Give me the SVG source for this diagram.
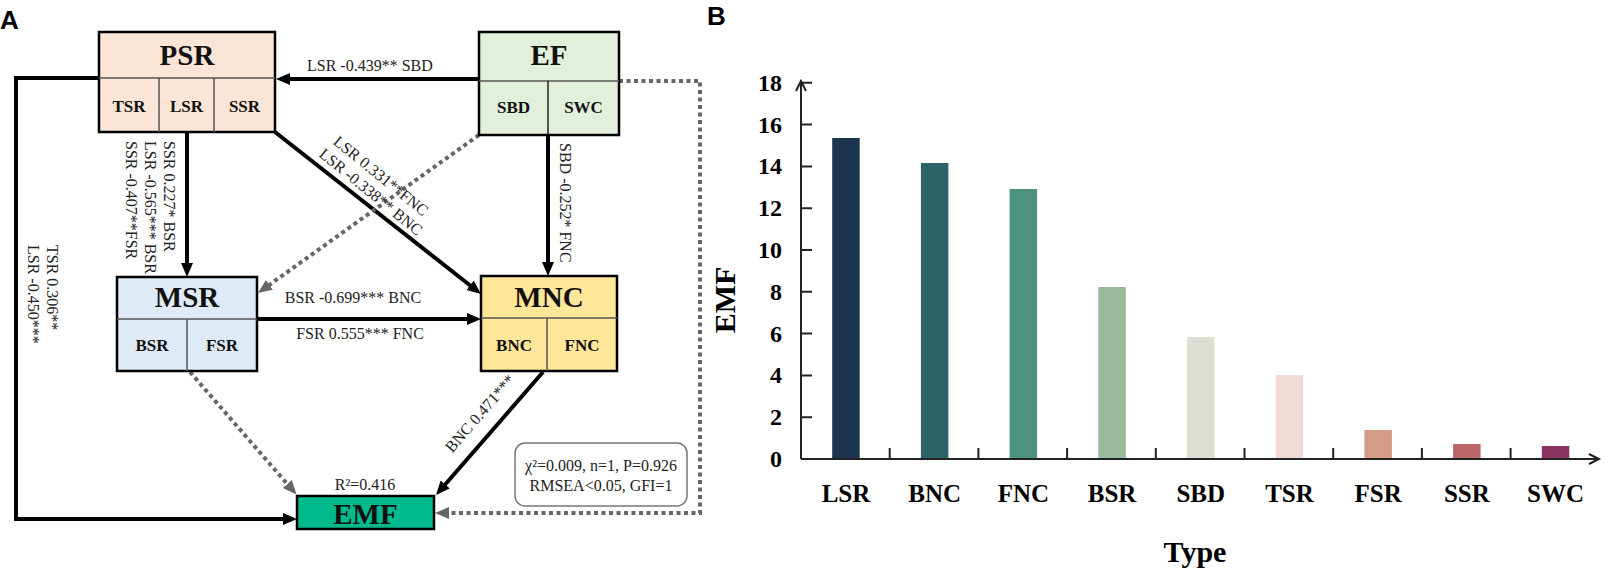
<svg xmlns="http://www.w3.org/2000/svg" width="1605" height="575" viewBox="0 0 1605 575">
<defs>
<style>
.box{stroke:#000;stroke-width:2.5}
.div{stroke:#555;stroke-width:1.5;fill:none}
.t1{font-family:"Liberation Serif",serif;font-weight:bold;font-size:29px;text-anchor:middle;fill:#111}
.t2{font-family:"Liberation Serif",serif;font-weight:bold;font-size:17px;text-anchor:middle;fill:#111}
.el{font-family:"Liberation Serif",serif;font-size:16px;fill:#222}
.elm{font-family:"Liberation Serif",serif;font-size:16px;fill:#222;text-anchor:middle}
.solid{stroke:#000;stroke-width:4;fill:none}
.dash{stroke:#666;stroke-width:4;fill:none;stroke-dasharray:4 3.5}
.pl{font-family:"Liberation Sans",Arial,sans-serif;font-weight:bold;font-size:26px;fill:#000}
.ax{stroke:#222;stroke-width:2;fill:none}
.yl{font-family:"Liberation Serif",serif;font-weight:bold;font-size:24px;text-anchor:end;fill:#000}
.xl{font-family:"Liberation Serif",serif;font-weight:bold;font-size:25px;text-anchor:middle;fill:#000}
.at{font-family:"Liberation Serif",serif;font-weight:bold;font-size:30px;text-anchor:middle;fill:#000}
</style>
<marker id="ah" markerUnits="userSpaceOnUse" markerWidth="15" markerHeight="13" refX="3" refY="6" orient="auto"><path d="M0,0 L14,6 L0,12 z" fill="#000"/></marker>
<marker id="ahg" markerUnits="userSpaceOnUse" markerWidth="15" markerHeight="13" refX="3" refY="6" orient="auto"><path d="M0,0 L14,6 L0,12 z" fill="#666"/></marker>
</defs>
<rect width="1605" height="575" fill="#fff"/>
<text class="pl" x="0" y="29">A</text>
<text class="pl" x="707" y="25">B</text>

<g id="connectors">
<path class="solid" d="M479,79 L287,79" marker-end="url(#ah)"/>
<path class="solid" d="M187,132 L187,266" marker-end="url(#ah)"/>
<path class="solid" d="M275,132 L472.4,287.2" marker-end="url(#ah)"/>
<path class="solid" d="M548,135 L548,265" marker-end="url(#ah)"/>
<path class="dash" d="M479,135 L266.9,286.6" marker-end="url(#ahg)"/>
<path class="solid" d="M257,319 L470,319" marker-end="url(#ah)"/>
<path class="solid" d="M99,78 L16,78 L16,519 L286,519" marker-end="url(#ah)"/>
<path class="dash" d="M190,372 L289.3,486.3" marker-end="url(#ahg)"/>
<path class="solid" d="M543,372 L443.2,486.7" marker-end="url(#ah)"/>
<path class="dash" d="M619,81 L700,81 L700,513 L446,513" marker-end="url(#ahg)"/>
<text class="el" x="307" y="71">LSR -0.439** SBD</text>
<text class="el" transform="translate(164,141) rotate(90)">SSR 0.227* BSR</text>
<text class="el" transform="translate(145,141) rotate(90)">LSR -0.565*** BSR</text>
<text class="el" transform="translate(126,141) rotate(90)">SSR -0.407**FSR</text>
<text class="el" transform="translate(47,245) rotate(90)">TSR 0.306**</text>
<text class="el" transform="translate(28,245) rotate(90)">LSR -0.450***</text>
<text class="el" transform="translate(560,143) rotate(90)">SBD -0.252* FNC</text>
<text class="elm" transform="translate(377.5,180) rotate(39)">LSR 0.331**FNC</text>
<text class="elm" transform="translate(367.5,196) rotate(39)">LSR -0.338** BNC</text>
<text class="elm" x="353" y="303">BSR -0.699*** BNC</text>
<text class="elm" x="360" y="339">FSR 0.555*** FNC</text>
<text class="elm" transform="translate(484,417) rotate(-49)">BNC 0.471***</text>
<text class="elm" x="365" y="490">R²=0.416</text>
</g>

<g id="PSR">
<rect class="box" x="99" y="32" width="176" height="100" fill="#fbe5d6"/>
<path class="div" d="M99,78 H275 M159,78 V132 M214,78 V132"/>
<text class="t1" x="187" y="65">PSR</text>
<text class="t2" x="129" y="112">TSR</text>
<text class="t2" x="186.5" y="112">LSR</text>
<text class="t2" x="244.5" y="112">SSR</text>
</g>
<g id="EF">
<rect class="box" x="479" y="32" width="140" height="103" fill="#e2efda"/>
<path class="div" d="M479,81 H619"/>
<path d="M548,81 V135" stroke="#222" stroke-width="1.5"/>
<text class="t1" x="549" y="65">EF</text>
<text class="t2" x="513.5" y="113">SBD</text>
<text class="t2" x="583.5" y="113">SWC</text>
</g>
<g id="MSR">
<rect class="box" x="117" y="277" width="140" height="94" fill="#deebf7"/>
<path class="div" d="M117,319 H257 M187,319 V371"/>
<text class="t1" x="187" y="307">MSR</text>
<text class="t2" x="152" y="351">BSR</text>
<text class="t2" x="222" y="351">FSR</text>
</g>
<g id="MNC">
<rect class="box" x="481" y="276" width="136" height="95" fill="#ffe699"/>
<path class="div" d="M481,318 H617 M547,318 V371"/>
<text class="t1" x="549" y="307">MNC</text>
<text class="t2" x="514" y="351">BNC</text>
<text class="t2" x="582" y="351">FNC</text>
</g>
<g id="EMF">
<rect class="box" x="297" y="496" width="137" height="33" fill="#00b98c"/>
<text class="t1" x="365.5" y="524">EMF</text>
</g>
<g id="fit">
<rect x="515" y="443" width="172" height="63" rx="10" fill="#fff" stroke="#777" stroke-width="1.5"/>
<text class="elm" x="601" y="471">χ²=0.009, n=1, P=0.926</text>
<text class="elm" x="601" y="491">RMSEA&lt;0.05, GFI=1</text>
</g>

<g id="chart">
<g id="bars">
<rect x="832.2" y="138" width="27.5" height="321" fill="#1b344f"/>
<rect x="920.9" y="163" width="27.5" height="296" fill="#2c6369"/>
<rect x="1009.6" y="189" width="27.5" height="270" fill="#4d917f"/>
<rect x="1098.3" y="287" width="27.5" height="172" fill="#97bb9b"/>
<rect x="1187" y="337" width="27.5" height="122" fill="#dcdfd3"/>
<rect x="1275.7" y="375" width="27.5" height="84" fill="#f0dad3"/>
<rect x="1364.4" y="430" width="27.5" height="29" fill="#d59b86"/>
<rect x="1453.1" y="444" width="27.5" height="15" fill="#bb6666"/>
<rect x="1541.8" y="446" width="27.5" height="13" fill="#8c3361"/>
</g>
<path class="ax" d="M801,459 V81 M796,91 L801,81 L806,91 M801,459 H1599 M1589,454 L1599,459 L1589,464"/>
<path class="ax" d="M801,82.8 H812 M801,124.6 H812 M801,166.4 H812 M801,208.2 H812 M801,250 H812 M801,291.8 H812 M801,333.6 H812 M801,375.4 H812 M801,417.2 H812"/>
<path class="ax" d="M889.7,459 V448 M978.4,459 V448 M1067.1,459 V448 M1155.8,459 V448 M1244.5,459 V448 M1333.2,459 V448 M1421.9,459 V448 M1510.6,459 V448"/>
<text class="yl" x="782" y="467">0</text>
<text class="yl" x="782" y="425.2">2</text>
<text class="yl" x="782" y="383.4">4</text>
<text class="yl" x="782" y="341.6">6</text>
<text class="yl" x="782" y="299.8">8</text>
<text class="yl" x="782" y="258">10</text>
<text class="yl" x="782" y="216.2">12</text>
<text class="yl" x="782" y="174.4">14</text>
<text class="yl" x="782" y="132.6">16</text>
<text class="yl" x="782" y="90.8">18</text>
<text class="xl" x="846" y="502">LSR</text>
<text class="xl" x="934.7" y="502">BNC</text>
<text class="xl" x="1023.4" y="502">FNC</text>
<text class="xl" x="1112.1" y="502">BSR</text>
<text class="xl" x="1200.8" y="502">SBD</text>
<text class="xl" x="1289.5" y="502">TSR</text>
<text class="xl" x="1378.2" y="502">FSR</text>
<text class="xl" x="1466.9" y="502">SSR</text>
<text class="xl" x="1555.6" y="502">SWC</text>
<text class="at" x="1195" y="562">Type</text>
<text class="at" transform="translate(735,300) rotate(-90)">EMF</text>
</g>
</svg>
